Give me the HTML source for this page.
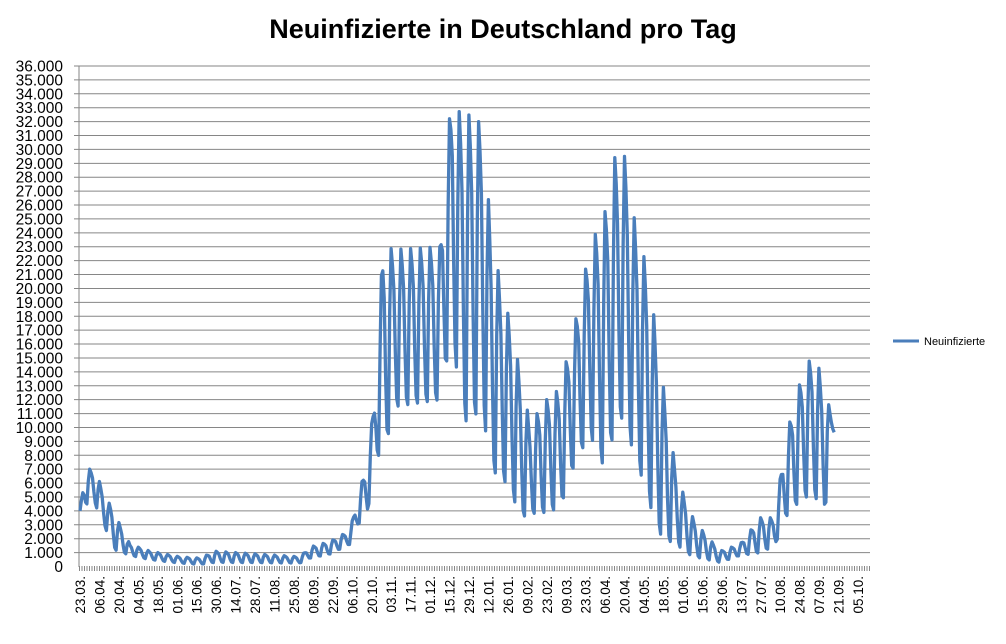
<!DOCTYPE html>
<html><head><meta charset="utf-8"><style>
html,body{margin:0;padding:0;background:#fff;}
body{width:1006px;height:639px;overflow:hidden;font-family:"Liberation Sans",sans-serif;}
</style></head><body>
<svg id="s" width="1006" height="639" xmlns="http://www.w3.org/2000/svg">
<text x="503" y="38" text-anchor="middle" font-family="Liberation Sans, sans-serif" font-weight="bold" font-size="27">Neuinfizierte in Deutschland pro Tag</text>
<g id="grid"></g>
<line x1="79" y1="66" x2="79" y2="567" stroke="#868686" stroke-width="1"/>
<line x1="79" y1="568.5" x2="870" y2="568.5" stroke="#868686" stroke-width="5" stroke-dasharray="1 1.5"/>
<g id="ylab" font-family="Liberation Sans, sans-serif" font-size="15.5" text-anchor="end"></g>
<g id="xlab" font-family="Liberation Sans, sans-serif" font-size="13.5"></g>
<polyline id="pl" fill="none" stroke="#4a7ebb" stroke-width="3.3" stroke-linejoin="round"/>
<line x1="893" y1="341" x2="919" y2="341" stroke="#4a7ebb" stroke-width="3"/>
<text x="924" y="345" font-family="Liberation Sans, sans-serif" font-size="11">Neuinfizierte</text>
</svg>
<script>
var NS="http://www.w3.org/2000/svg";
function el(t,a,p,txt){var e=document.createElementNS(NS,t);for(var k in a)e.setAttribute(k,a[k]);if(txt)e.textContent=txt;p.appendChild(e);return e;}
var g=document.getElementById('grid'),yl=document.getElementById('ylab'),xl=document.getElementById('xlab');
function Y(v){return 566.5-v*500.5/36000;}
for(var i=0;i<=36;i++){var y=Y(i*1000);
 if(i>0)el('line',{x1:74,y1:y,x2:870,y2:y,stroke:'#868686','stroke-width':1},g);
 var s=i==0?'0':(i+'.000');el('text',{x:63,y:y+5.5},yl,s);}
var labs="23.03. 06.04. 20.04. 04.05. 18.05. 01.06. 15.06. 30.06. 14.07. 28.07. 11.08. 25.08. 08.09. 22.09. 06.10. 20.10. 03.11. 17.11. 01.12. 15.12. 29.12. 12.01. 26.01. 09.02. 23.02. 09.03. 23.03. 06.04. 20.04. 04.05. 18.05. 01.06. 15.06. 29.06. 13.07. 27.07. 10.08. 24.08. 07.09. 21.09. 05.10.".split(' ');
for(var i=0;i<labs.length;i++){var x=85+i*19.45;
 el('text',{transform:'translate('+x+',576) rotate(-90)','text-anchor':'end'},xl,labs[i]);}
var env=[[80,4000,3900],[85,7000,4500],[95,7000,4500],[102,5600,3300],[115,3700,1200],[130,1600,800],[150,1100,500],[180,700,250],[200,600,150],[215,1100,300],[300,700,250],[310,1400,600],[330,1800,900],[350,2600,1600],[358,5000,3000],[368,7800,4000],[375,12500,8000],[383,23000,8000],[395,22800,11500],[440,23000,12000],[446,30000,14500],[452,33800,17000],[462,32300,11000],[470,32500,10000],[482,31800,12000],[490,25000,7000],[500,20400,6500],[510,17600,5700],[520,14000,3500],[530,10200,3800],[545,11900,3900],[560,12800,4200],[575,17500,7500],[590,23000,9500],[605,25500,7000],[615,29500,10000],[625,29500,11000],[635,24700,7500],[645,22000,6000],[655,17500,3000],[665,12000,1800],[675,7300,1800],[685,4800,1000],[695,3200,700],[720,1100,300],[740,1600,800],[760,3500,1000],[775,3500,1500],[785,9000,3500],[797,12500,4500],[805,14300,5000],[815,15400,5000],[825,12500,4000],[833,10600,9600]];
function interp(x,k){for(var i=0;i<env.length-1;i++){if(x<=env[i+1][0]){var a=env[i],b=env[i+1],t=(x-a[0])/(b[0]-a[0]);return a[k]+(b[k]-a[k])*t;}}return env[env.length-1][k];}
var pat=[0.05,0.0,0.65,1.0,0.9,0.75,0.35];
var pts=[];
for(var d=0;;d++){var x=80+d*1.389;if(x>835)break;
 var hi=interp(x,1),lo=interp(x,2);var w=pat[(d+3)%7];
 var v=lo+(hi-lo)*w;pts.push(x.toFixed(1)+','+Y(v).toFixed(1));}
document.getElementById('pl').setAttribute('points',pts.join(' '));
</script>
</body></html>
